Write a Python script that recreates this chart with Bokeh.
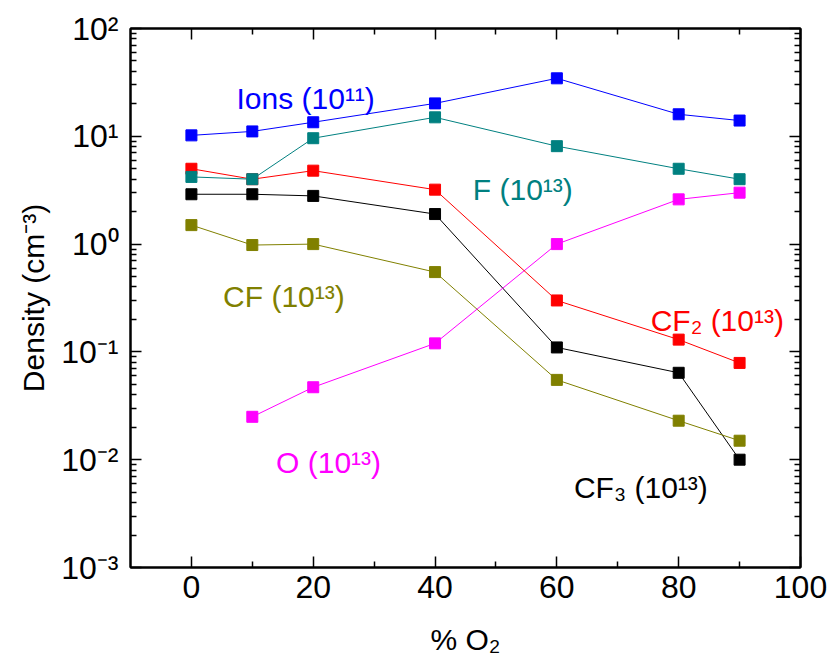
from bokeh.plotting import figure
from bokeh.models import (ColumnDataSource, FixedTicker, LogAxis, LinearAxis, Range1d,
                          CustomLabelingPolicy)
from bokeh.core.properties import value
from bokeh.embed import file_html
from bokeh.resources import INLINE

# ---- data ----
o2_pct = [0, 10, 20, 40, 60, 80, 90]
ions = [10.2, 11.1, 13.5, 20.2, 34.5, 16.0, 14.0]
f_atoms = [4.2, 4.0, 9.6, 15.0, 8.1, 5.0, 4.0]
cf2 = [5.0, 4.0, 4.8, 3.2, 0.30, 0.13, 0.079]
cf3 = [2.9, 2.9, 2.8, 1.9, 0.11, 0.064, 0.010]
cf = [1.5, 0.98, 1.0, 0.55, 0.055, 0.023, 0.015]
o2_pct_o = [10, 20, 40, 60, 80, 90]
o_atoms = [0.025, 0.047, 0.12, 1.0, 2.6, 3.0]

x_ticks = [0, 20, 40, 60, 80, 100]
x_minor = [10, 30, 50, 70, 90]
y_ticks = [0.001, 0.01, 0.1, 1, 10, 100]
y_tick_labels = ["10\u207b\u00b3", "10\u207b\u00b2", "10\u207b\u00b9", "10\u2070", "10\u00b9", "10\u00b2"]

label_texts = ["Ions (10\u00b9\u00b9)", "F (10\u00b9\u00b3)", "CF (10\u00b9\u00b3)",
               "CF\u2082 (10\u00b9\u00b3)", "O (10\u00b9\u00b3)", "CF\u2083 (10\u00b9\u00b3)"]
label_x = [7.4, 46.2, 5.2, 75.4, 13.9, 62.8]
label_y = [22.5, 3.2, 0.33, 0.194, 0.0094, 0.0055]
label_colors = ["#0000FF", "#008080", "#808000", "#FF0000", "#FF00FF", "#000000"]

FONT = "Liberation Sans"

p = figure(width=830, height=670, x_range=Range1d(-10, 100), y_range=Range1d(0.001, 100),
           y_axis_type="log", output_backend="svg", toolbar_location=None,
           min_border_left=130, min_border_right=30, min_border_top=28, min_border_bottom=103)
p.grid.visible = False
p.outline_line_color = "black"
p.outline_line_width = 2
p.background_fill_color = "white"
p.border_fill_color = "white"

y_minor = [m * 10 ** k for k in range(-3, 2) for m in range(2, 10)]
xt = FixedTicker(ticks=x_ticks, minor_ticks=x_minor)
yt = FixedTicker(ticks=y_ticks, minor_ticks=y_minor)


def style_axis(ax, show_labels):
    ax.axis_line_width = 2
    ax.major_tick_line_width = 1.5
    ax.minor_tick_line_width = 1.5
    ax.major_tick_in = 11
    ax.major_tick_out = 0
    ax.minor_tick_in = 6
    ax.minor_tick_out = 0
    ax.major_label_text_font = FONT
    ax.major_label_text_font_size = "32px" if show_labels else "1px"
    ax.major_label_text_color = "black"
    ax.axis_label_text_font = FONT
    ax.axis_label_text_font_size = "30px"
    ax.axis_label_text_font_style = "normal"
    ax.axis_label_text_color = "black"
    if not show_labels:
        ax.major_label_standoff = 0
        ax.major_label_policy = CustomLabelingPolicy(code="return []")


xa = p.xaxis[0]
xa.ticker = xt
style_axis(xa, True)
xa.axis_label = "% O\u2082"
xa.major_label_standoff = 8
xa.axis_label_standoff = 22

ya = p.yaxis[0]
ya.ticker = yt
style_axis(ya, True)
ya.major_label_overrides = {t: l for t, l in zip(y_ticks, y_tick_labels)}
ya.axis_label = "Density (cm\u207b\u00b3)"
ya.major_label_standoff = 12
ya.axis_label_standoff = 8

top = LinearAxis(ticker=FixedTicker(ticks=x_ticks, minor_ticks=x_minor))
style_axis(top, False)
p.add_layout(top, "above")
right = LogAxis(ticker=FixedTicker(ticks=y_ticks, minor_ticks=y_minor))
style_axis(right, False)
p.add_layout(right, "right")

series = [
    (o2_pct, cf3, "#000000"),
    (o2_pct, cf, "#808000"),
    (o2_pct_o, o_atoms, "#FF00FF"),
    (o2_pct, cf2, "#FF0000"),
    (o2_pct, f_atoms, "#008080"),
    (o2_pct, ions, "#0000FF"),
]
for xs, ys, col in series:
    src = ColumnDataSource(dict(x=xs, y=ys))
    p.line("x", "y", source=src, line_color=col, line_width=1.0)
    p.scatter("x", "y", source=src, marker="square", size=11, fill_color=col, line_color=col)

lsrc = ColumnDataSource(dict(x=label_x, y=label_y, t=label_texts, c=label_colors))
p.text("x", "y", text="t", source=lsrc, text_color="c", text_font=value(FONT),
       text_font_size="30px", text_baseline="alphabetic", text_align="left")

open("out.html", "w").write(file_html(p, INLINE))
